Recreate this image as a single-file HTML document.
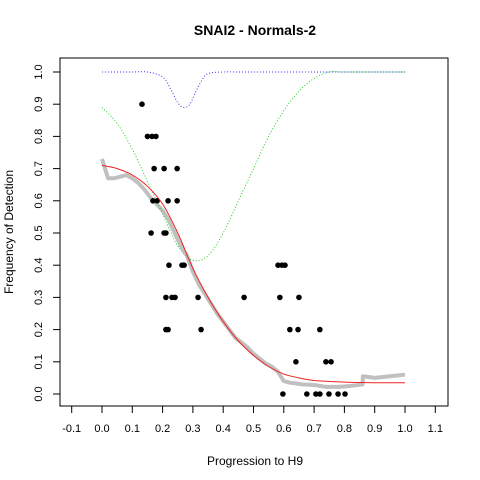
<!DOCTYPE html>
<html><head><meta charset="utf-8"><style>body{margin:0;background:#fff}svg{display:block;font-family:"Liberation Sans",sans-serif}</style></head>
<body>
<svg id="c" width="480" height="480">
<text x="255" y="35" text-anchor="middle" font-size="14" font-weight="bold">SNAI2 - Normals-2</text>
<text x="255" y="465" text-anchor="middle" font-size="12">Progression to H9</text>
<text transform="translate(13,232) rotate(-90)" text-anchor="middle" font-size="12">Frequency of Detection</text>
<rect x="60" y="58" width="388" height="348" fill="none" stroke="#000"/>
<g id="g"></g>
</svg>
<script>
const xTicks=[-0.1,0,0.1,0.2,0.3,0.4,0.5,0.6,0.7,0.8,0.9,1.0,1.1];
const yTicks=[0,0.1,0.2,0.3,0.4,0.5,0.6,0.7,0.8,0.9,1.0];
const greyX=[0,0.02,0.04,0.06,0.08,0.1,0.12,0.14,0.16,0.18,0.2,0.22,0.24,0.26,0.28,0.3,0.32,0.34,0.36,0.38,0.4,0.42,0.44,0.46,0.48,0.5,0.52,0.54,0.56,0.58,0.6,0.62,0.64,0.66,0.7,0.74,0.78,0.82,0.86,0.861,0.9,0.95,1.0];
const greyY=[0.73,0.67,0.67,0.675,0.68,0.67,0.655,0.635,0.61,0.59,0.57,0.54,0.5,0.46,0.43,0.38,0.34,0.31,0.28,0.25,0.225,0.2,0.175,0.16,0.145,0.125,0.11,0.095,0.085,0.07,0.04,0.035,0.033,0.03,0.028,0.022,0.022,0.025,0.03,0.055,0.05,0.055,0.06];
const redX=[0,0.05,0.1,0.15,0.2,0.25,0.3,0.35,0.4,0.45,0.5,0.55,0.6,0.65,0.7,0.8,0.9,1.0];
const redY=[0.71,0.70,0.68,0.645,0.59,0.5,0.39,0.3,0.225,0.165,0.12,0.085,0.062,0.05,0.042,0.037,0.035,0.035];
const greenX=[0,0.05,0.1,0.15,0.2,0.25,0.3,0.35,0.4,0.45,0.5,0.55,0.6,0.65,0.7,0.75,0.8,0.9,1.0];
const greenY=[0.89,0.84,0.76,0.66,0.56,0.46,0.415,0.43,0.5,0.6,0.7,0.8,0.88,0.94,0.98,1.0,1.0,1.0,1.0];
const blueX=[0,0.1,0.15,0.2,0.225,0.25,0.27,0.29,0.31,0.33,0.35,0.4,0.5,1.0];
const blueY=[1,1,1,0.985,0.95,0.905,0.89,0.9,0.94,0.975,0.995,1,1,1];
const ptX=[0.132,0.15,0.165,0.178,0.172,0.205,0.248,0.168,0.182,0.218,0.248,0.162,0.205,0.211,0.221,0.264,0.271,0.581,0.594,0.604,0.211,0.231,0.241,0.317,0.469,0.587,0.65,0.211,0.218,0.327,0.62,0.647,0.719,0.64,0.739,0.756,0.597,0.676,0.706,0.719,0.749,0.779,0.802];
const ptY=[0.9,0.8,0.8,0.8,0.7,0.7,0.7,0.6,0.6,0.6,0.6,0.5,0.5,0.5,0.4,0.4,0.4,0.4,0.4,0.4,0.3,0.3,0.3,0.3,0.3,0.3,0.3,0.2,0.2,0.2,0.2,0.2,0.2,0.1,0.1,0.1,0,0,0,0,0,0,0];
const sx=v=>102+v*303, sy=v=>394-v*322;
const NS='http://www.w3.org/2000/svg', g=document.getElementById('g');
function mk(t,a){const e=document.createElementNS(NS,t);for(const k in a)e.setAttribute(k,a[k]);g.appendChild(e);return e;}
xTicks.forEach(v=>{
 const l=mk('line',{x1:sx(v),x2:sx(v),y1:406,y2:413,stroke:'#000'});
 
 
 const t=mk('text',{x:sx(v),y:432,'text-anchor':'middle','font-size':11});t.textContent=v.toFixed(1);
 
 
});
yTicks.forEach(v=>{
 const l=mk('line',{x1:53,x2:60,y1:sy(v),y2:sy(v),stroke:'#000'});
 
 
 const t=mk('text',{transform:`translate(42,${sy(v)}) rotate(-90)`,'text-anchor':'middle','font-size':11});t.textContent=v.toFixed(1);
 
 
});
const path=(X,Y)=>X.map((x,i)=>(i?'L':'M')+sx(x)+','+sy(Y[i])).join('');
function smooth(X,Y){
 const P=X.map((x,i)=>[sx(x),sy(Y[i])]);
 let d='M'+P[0][0]+','+P[0][1];
 for(let i=0;i<P.length-1;i++){
  const p0=P[Math.max(i-1,0)],p1=P[i],p2=P[i+1],p3=P[Math.min(i+2,P.length-1)];
  const c1=[p1[0]+(p2[0]-p0[0])/6,p1[1]+(p2[1]-p0[1])/6];
  const c2=[p2[0]-(p3[0]-p1[0])/6,p2[1]-(p3[1]-p1[1])/6];
  d+=`C${c1[0]},${c1[1]} ${c2[0]},${c2[1]} ${p2[0]},${p2[1]}`;
 }
 return d;
}
const gr=mk('path',{d:path(greyX,greyY),fill:'none',stroke:'#c0c0c0','stroke-width':4,'stroke-linejoin':'round'});


const gn=mk('path',{d:smooth(greenX,greenY),fill:'none',stroke:'#2c2','stroke-width':1,'stroke-dasharray':'1,2'});


const bl=mk('path',{d:smooth(blueX,blueY),fill:'none',stroke:'#33f','stroke-width':1,'stroke-dasharray':'1,2'});


ptX.forEach((x,i)=>{const c=mk('circle',{cx:sx(x),cy:sy(ptY[i]),r:2.8,fill:'#000'});
 
 });
const rd=mk('path',{d:smooth(redX,redY),fill:'none',stroke:'#e22','stroke-width':1});


</script>
</body></html>
